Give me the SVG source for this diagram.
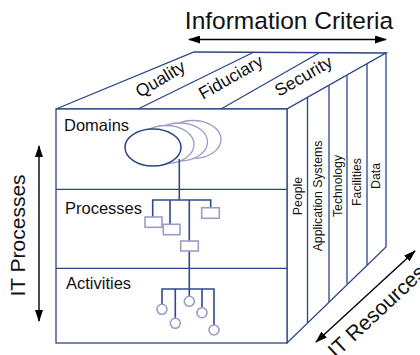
<svg xmlns="http://www.w3.org/2000/svg" width="420" height="355" viewBox="0 0 420 355">
<defs>
<marker id="ah" viewBox="0 0 12 8" refX="11" refY="4" markerWidth="12" markerHeight="8" markerUnits="userSpaceOnUse" orient="auto-start-reverse">
<path d="M0,0 L12,4 L0,8 Z" fill="#000"/>
</marker>
<style>
.cube{fill:none;stroke:#2b4587;stroke-width:1.3;stroke-linejoin:round}
.face{fill:#fff;stroke:#2b4587;stroke-width:1.3}
.tree{fill:none;stroke:#2f4a8a;stroke-width:1.6}
.box{fill:#fff;stroke:#9a9cc9;stroke-width:1.6}
.ell{fill:#fff;stroke:#9a9cc9;stroke-width:1.3}
.arr{stroke:#000;stroke-width:1.4;fill:none;marker-start:url(#ah);marker-end:url(#ah)}
.t{font-family:"Liberation Sans",Arial,sans-serif;fill:#111}
.big{font-size:21px}
.lbl{font-size:16.5px}
.top{font-size:17.5px}
.res{font-size:12.3px}
</style>
</defs>
<rect width="420" height="355" fill="#fff"/>
<g id="connectors">
<line class="arr" x1="189" y1="39.5" x2="386" y2="39.5"/>
<line class="arr" x1="39" y1="146" x2="39" y2="321"/>
<line class="arr" x1="316" y1="342" x2="415" y2="251"/>
</g>
<g id="title">
<text class="t" x="289" y="29" text-anchor="middle" font-size="24.5">Information Criteria</text>
<text class="t big" transform="translate(25,235.5) rotate(-90)" text-anchor="middle">IT Processes</text>
<text class="t big" transform="translate(336,359) rotate(-43)">IT Resources</text>
</g>
<g id="cube">
<polygon class="face" points="56,109 194,52 386,53 287,109"/>
<polygon class="face" points="287,109 386,53 386,247 287,343"/>
<rect class="face" x="56" y="109" width="231" height="234"/>
<line class="cube" x1="138" y1="109" x2="254" y2="52"/>
<line class="cube" x1="221" y1="109" x2="319" y2="53"/>
<line class="cube" x1="307.5" y1="97.7" x2="307.5" y2="323"/>
<line class="cube" x1="329" y1="85.5" x2="329" y2="302"/>
<line class="cube" x1="347" y1="75.5" x2="347" y2="284"/>
<line class="cube" x1="367" y1="64" x2="367" y2="265"/>
<line class="cube" x1="56" y1="189.3" x2="287" y2="189.3"/>
<line class="cube" x1="56" y1="268.3" x2="287" y2="268.3"/>
</g>
<g id="criteria">
<text class="t top" transform="translate(140,98) rotate(-31)">Quality</text>
<text class="t top" transform="translate(203,100) rotate(-30)">Fiduciary</text>
<text class="t top" transform="translate(279,97) rotate(-30)">Security</text>
</g>
<g id="resources">
<text class="t res" transform="translate(302,196) rotate(-90)" text-anchor="middle">People</text>
<text class="t res" transform="translate(322,196) rotate(-90)" text-anchor="middle">Application Systems</text>
<text class="t res" transform="translate(342,186) rotate(-90)" text-anchor="middle">Technology</text>
<text class="t res" transform="translate(361,182) rotate(-90)" text-anchor="middle">Facilities</text>
<text class="t res" transform="translate(380,176) rotate(-90)" text-anchor="middle">Data</text>
</g>
<g id="domains">
<text class="t lbl" x="64" y="131">Domains</text>
<ellipse class="ell" cx="193" cy="139.5" rx="28" ry="19"/>
<ellipse class="ell" cx="179.5" cy="142" rx="28" ry="19"/>
<ellipse class="ell" cx="166" cy="144.5" rx="28" ry="19"/>
<ellipse cx="153" cy="147.5" rx="28" ry="18.5" fill="#fff" stroke="#2b4587" stroke-width="1.5"/>
</g>
<g id="processes">
<text class="t lbl" x="65" y="213.5">Processes</text>
<path class="tree" d="M179.3,159 V200 M152.7,217 V200 H210.7 V207.7 M170,200 V224.3 M189.3,200 V289"/>
<rect class="box" x="145" y="217" width="17" height="10.3"/>
<rect class="box" x="163.3" y="224.3" width="16.7" height="10.4"/>
<rect class="box" x="180.7" y="241" width="17.6" height="10"/>
<rect class="box" x="201.7" y="207.7" width="17.6" height="10.6"/>
</g>
<g id="activities">
<text class="t lbl" x="66" y="288.5">Activities</text>
<path class="tree" d="M162,304.3 V289 H214 V325 M175.3,289 V318.3 M189.3,289 V296.3 M202,289 V307.7"/>
<circle class="box" cx="162" cy="309.3" r="5"/>
<circle class="box" cx="175.3" cy="323.3" r="5"/>
<circle class="box" cx="189.3" cy="301.3" r="5"/>
<circle class="box" cx="202" cy="312.7" r="5"/>
<circle class="box" cx="214" cy="330" r="5"/>
</g>
</svg>
